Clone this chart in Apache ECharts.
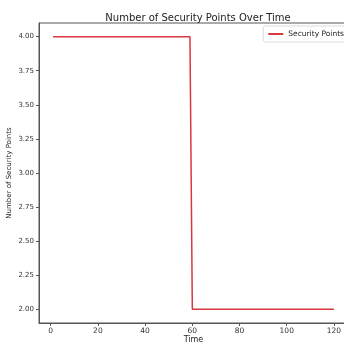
<!DOCTYPE html>
<html><head><meta charset="utf-8">
<script src="https://cdn.jsdelivr.net/npm/echarts@6/dist/echarts.min.js"></script>
<style>html,body{margin:0;padding:0;background:#fff}#c{width:344px;height:343px}</style>
</head><body><div id="c"></div>
<script>
// Data
const timeSteps = [];
for (let t = 1; t <= 120; t++) timeSteps.push(t);
const pointsBefore = 4;   // value for time 1..59
const pointsAfter = 2;    // value for time 60..120
const securityPoints = timeSteps.map(t => t < 60 ? pointsBefore : pointsAfter);
const xTicks = [0, 20, 40, 60, 80, 100, 120];
const yTicks = [2.0, 2.25, 2.5, 2.75, 3.0, 3.25, 3.5, 3.75, 4.0];

const chart = echarts.init(document.getElementById('c'), null, {renderer: 'canvas'});
const font = 'DejaVu Sans';
chart.setOption({
  animation: false,
  backgroundColor: '#fff',
  title: {
    text: 'Number of Security Points Over Time',
    left: 193, top: 8, textAlign: 'center',
    textStyle: {fontFamily: font, fontSize: 10, fontWeight: 'normal', color: '#222'}
  },
  legend: {
    right: -8, top: 26,
    itemWidth: 15, itemHeight: 2, itemGap: 4,
    padding: [4, 8, 4, 5],
    borderColor: '#ddd', borderWidth: 1, borderRadius: 2,
    textStyle: {fontFamily: font, fontSize: 7.5, color: '#222'},
    data: [{name: 'Security Points', icon: 'rect'}]
  },
  grid: {left: 39, top: 23, right: -4, bottom: 20, containLabel: false, outerBoundsMode: 'none',
    show: true, borderColor: '#555', borderWidth: 1, backgroundColor: 'transparent'},
  xAxis: {
    type: 'value', min: -4.95, max: 125.95,
    name: 'Time', nameLocation: 'middle', nameGap: 13, nameMoveOverlap: false,
    nameTextStyle: {fontFamily: font, fontSize: 8, color: '#222', verticalAlign: 'top'},
    axisLine: {show: true, onZero: false, lineStyle: {color: '#555', width: 1}},
    axisTick: {show: true, length: 3, customValues: xTicks, lineStyle: {color: '#555'}},
    axisLabel: {customValues: xTicks, fontFamily: font, fontSize: 7.5, color: '#333', margin: 4},
    splitLine: {show: false}
  },
  yAxis: {
    type: 'value', min: 1.9, max: 4.1,
    name: 'Number of Security Points', nameLocation: 'middle', nameGap: 26, nameMoveOverlap: false,
    nameTextStyle: {fontFamily: font, fontSize: 7, color: '#222'},
    axisLine: {show: true, onZero: false, lineStyle: {color: '#555', width: 1}},
    axisTick: {show: true, length: 3, customValues: yTicks, lineStyle: {color: '#555'}},
    axisLabel: {customValues: yTicks, fontFamily: font, fontSize: 7, color: '#333', margin: 5,
      formatter: v => v.toFixed(2)},
    splitLine: {show: false}
  },
  series: [{
    name: 'Security Points', type: 'line',
    data: timeSteps.map((t, i) => [t, securityPoints[i]]),
    showSymbol: false, symbol: 'none',
    lineStyle: {color: '#d9363e', width: 1.5},
    itemStyle: {color: '#d9363e'}
  }]
});
</script></body></html>
